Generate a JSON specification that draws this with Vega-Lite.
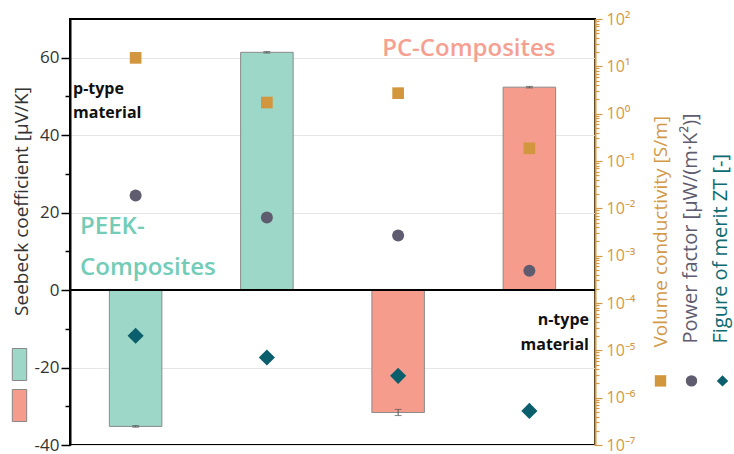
{
  "$schema": "https://vega.github.io/schema/vega-lite/v6.json",
  "width": 525,
  "height": 426,
  "autosize": {"type": "none"},
  "padding": {"left": 70, "top": 19, "right": 139, "bottom": 9},
  "background": "white",
  "config": {"font": "Open Sans", "view": {"stroke": "#000", "strokeWidth": 2}},
  "datasets": {
    "seebeck": [
      {"cat": "B1", "composite": "PEEK-Composites", "seebeck": -35.2, "err": 0.2},
      {"cat": "B2", "composite": "PEEK-Composites", "seebeck": 61.4, "err": 0.2},
      {"cat": "B3", "composite": "PC-Composites", "seebeck": -31.6, "err": 0.8},
      {"cat": "B4", "composite": "PC-Composites", "seebeck": 52.4, "err": 0.2}
    ],
    "props": [
      {"cat": "B1", "series": "Volume conductivity", "value": 15.1},
      {"cat": "B2", "series": "Volume conductivity", "value": 1.72},
      {"cat": "B3", "series": "Volume conductivity", "value": 2.71},
      {"cat": "B4", "series": "Volume conductivity", "value": 0.185},
      {"cat": "B1", "series": "Power factor", "value": 0.0187},
      {"cat": "B2", "series": "Power factor", "value": 0.0064},
      {"cat": "B3", "series": "Power factor", "value": 0.00267},
      {"cat": "B4", "series": "Power factor", "value": 0.00048},
      {"cat": "B1", "series": "ZT", "value": 0.0000203},
      {"cat": "B2", "series": "ZT", "value": 0.00000705},
      {"cat": "B3", "series": "ZT", "value": 0.00000289},
      {"cat": "B4", "series": "ZT", "value": 0.000000525}
    ]
  },
  "layer": [
    {
      "data": {"name": "seebeck"},
      "layer": [
        {
          "mark": {"type": "bar", "stroke": "#8a8a8a", "strokeWidth": 1},
          "encoding": {
            "x": {"field": "cat", "type": "nominal", "scale": {"domain": ["B1", "B2", "B3", "B4"], "paddingInner": 0.6, "paddingOuter": 0.3}, "axis": null},
            "y": {
              "field": "seebeck", "type": "quantitative",
              "title": "Seebeck coefficient [µV/K]",
              "scale": {"domain": [-40, 70], "nice": false, "zero": false},
              "axis": {
                "orient": "left",
                "values": [-40, -30, -20, -10, 0, 10, 20, 30, 40, 50, 60],
                "labelExpr": "datum.value % 20 == 0 ? '' + datum.value : ''",
                "tickSize": {"condition": {"test": "datum.value % 20 == 0", "value": 9}, "value": 5},
                "tickColor": "#000", "tickWidth": 1.5,
                "domainColor": "#000", "domainWidth": 2,
                "labelColor": "#333", "labelFontSize": 17, "labelPadding": 2,
                "grid": true, "gridColor": "#e6e6e6",
                "gridOpacity": {"condition": {"test": "datum.value % 20 == 0", "value": 1}, "value": 0},
                "titleColor": "#333", "titleFontSize": 19, "titleFontWeight": "normal",
                "titleAngle": 270, "titleX": -49, "titleY": 182, "titleAlign": "center", "titleBaseline": "middle"
              }
            },
            "fill": {
              "field": "composite", "type": "nominal",
              "scale": {"domain": ["PEEK-Composites", "PC-Composites"], "range": ["#9dd7c7", "#f69c8c"]},
              "legend": {
                "orient": "none", "legendX": -67, "legendY": 329, "title": null, "labelExpr": "''",
                "symbolType": "M-0.45,-1H0.45V1H-0.45Z", "symbolSize": 1024,
                "symbolStrokeColor": "#888", "symbolStrokeWidth": 1, "symbolOpacity": 1,
                "rowPadding": 4, "padding": 0, "labelOffset": 0
              }
            }
          }
        },
        {
          "mark": {"type": "errorbar", "ticks": {"size": 7, "color": "#555"}, "rule": {"color": "#555"}},
          "encoding": {
            "x": {"field": "cat", "type": "nominal"},
            "y": {"field": "seebeck", "type": "quantitative", "title": "Seebeck coefficient [µV/K]"},
            "yError": {"field": "err"}
          }
        },
        {
          "mark": {"type": "rule", "color": "#000", "strokeWidth": 2},
          "encoding": {"y": {"datum": 0}}
        },
        {
          "data": {"values": [{}]},
          "mark": {"type": "text", "align": "left", "baseline": "middle", "dx": -62.6, "fontSize": 16, "fontWeight": "bold", "color": "#111", "lineHeight": 23.5, "text": ["p-type", "material"]},
          "encoding": {"x": {"datum": "B1"}, "y": {"datum": 51.9}}
        },
        {
          "data": {"values": [{}]},
          "mark": {"type": "text", "align": "right", "baseline": "middle", "dx": 59.6, "fontSize": 16, "fontWeight": "bold", "color": "#111", "lineHeight": 24.5, "text": ["n-type", "material"]},
          "encoding": {"x": {"datum": "B4"}, "y": {"datum": -7.8}}
        },
        {
          "data": {"values": [{}]},
          "mark": {"type": "text", "align": "left", "baseline": "middle", "dx": -55.6, "fontSize": 24, "fontWeight": 600, "color": "#72ccb7", "lineHeight": 41, "text": ["PEEK-", "Composites"]},
          "encoding": {"x": {"datum": "B1"}, "y": {"datum": 16.2}}
        },
        {
          "data": {"values": [{}]},
          "mark": {"type": "text", "align": "left", "baseline": "middle", "dx": -16, "fontSize": 24, "fontWeight": 600, "color": "#f5a090", "text": "PC-Composites"},
          "encoding": {"x": {"datum": "B3"}, "y": {"datum": 62.3}}
        }
      ]
    },
    {
      "data": {"name": "props"},
      "transform": [{"filter": "datum.series == 'Volume conductivity'"}],
      "mark": {"type": "point", "filled": true, "opacity": 1, "size": 136, "shape": "square"},
      "encoding": {
        "x": {"field": "cat", "type": "nominal"},
        "y": {
          "field": "value", "type": "quantitative",
          "scale": {"type": "log", "domain": [1e-7, 100], "nice": false},
          "axis": {
            "orient": "right",
            "values": [1e-7, 2e-7, 3e-7, 4e-7, 5e-7, 6e-7, 7e-7, 8e-7, 9e-7,
                       1e-6, 2e-6, 3e-6, 4e-6, 5e-6, 6e-6, 7e-6, 8e-6, 9e-6,
                       1e-5, 2e-5, 3e-5, 4e-5, 5e-5, 6e-5, 7e-5, 8e-5, 9e-5,
                       0.0001, 0.0002, 0.0003, 0.0004, 0.0005, 0.0006, 0.0007, 0.0008, 0.0009,
                       0.001, 0.002, 0.003, 0.004, 0.005, 0.006, 0.007, 0.008, 0.009,
                       0.01, 0.02, 0.03, 0.04, 0.05, 0.06, 0.07, 0.08, 0.09,
                       0.1, 0.2, 0.3, 0.4, 0.5, 0.6, 0.7, 0.8, 0.9,
                       1, 2, 3, 4, 5, 6, 7, 8, 9,
                       10, 20, 30, 40, 50, 60, 70, 80, 90, 100],
            "labelExpr": "datum.value==100?'10²':datum.value==10?'10¹':datum.value==1?'10⁰':datum.value==0.1?'10⁻¹':datum.value==0.01?'10⁻²':datum.value==0.001?'10⁻³':datum.value==0.0001?'10⁻⁴':datum.value==1e-5?'10⁻⁵':datum.value==1e-6?'10⁻⁶':datum.value==1e-7?'10⁻⁷':''",
            "tickSize": {"condition": {"test": "abs(log(datum.value)/LN10 - round(log(datum.value)/LN10)) < 0.001", "value": 7}, "value": 4},
            "tickColor": "#d29a48", "tickWidth": 1.2,
            "domainColor": "#d29a48", "domainWidth": 2,
            "labelColor": "#d29a48", "labelFontSize": 16, "labelPadding": 4,
            "labelOverlap": false, "labelBound": false, "labelFlush": false,
            "grid": false,
            "title": "Volume conductivity [S/m]", "titleColor": "#d29a48", "titleFontSize": 19, "titleFontWeight": "normal",
            "titleAngle": 270, "titleX": 65, "titleY": 328, "titleAlign": "left", "titleBaseline": "middle"
          }
        },
        "color": {
          "field": "series", "type": "nominal",
          "scale": {"domain": ["Volume conductivity", "Power factor", "ZT"], "range": ["#d2963e", "#5e5c6e", "#0b5e6b"]},
          "legend": {"orient": "none", "direction": "horizontal", "legendX": 584, "legendY": 355, "title": null, "labelExpr": "''", "symbolSize": 130, "columnPadding": 18, "labelOffset": 0, "padding": 0, "symbolOpacity": 1}
        },
        "shape": {
          "field": "series", "type": "nominal",
          "scale": {"domain": ["Volume conductivity", "Power factor", "ZT"], "range": ["square", "circle", "diamond"]},
          "legend": {"orient": "none", "direction": "horizontal", "legendX": 584, "legendY": 355, "title": null, "labelExpr": "''", "symbolSize": 130, "columnPadding": 18, "labelOffset": 0, "padding": 0, "symbolOpacity": 1}
        }
      }
    },
    {
      "data": {"name": "props"},
      "transform": [{"filter": "datum.series == 'Power factor'"}],
      "mark": {"type": "point", "filled": true, "opacity": 1, "size": 144, "shape": "circle"},
      "encoding": {
        "x": {"field": "cat", "type": "nominal"},
        "y": {
          "field": "value", "type": "quantitative",
          "scale": {"type": "log", "domain": [1e-7, 100], "nice": false},
          "axis": {
            "orient": "right", "domain": false, "ticks": false, "labels": false, "grid": false,
            "title": "Power factor [µW/(m·K²)]", "titleColor": "#5e5c6e", "titleFontSize": 20, "titleFontWeight": "normal",
            "titleAngle": 270, "titleX": 95, "titleY": 324, "titleAlign": "left", "titleBaseline": "middle"
          }
        },
        "color": {"field": "series", "type": "nominal"},
        "shape": {"field": "series", "type": "nominal"}
      }
    },
    {
      "data": {"name": "props"},
      "transform": [{"filter": "datum.series == 'ZT'"}],
      "mark": {"type": "point", "filled": true, "opacity": 1, "size": 260, "shape": "diamond"},
      "encoding": {
        "x": {"field": "cat", "type": "nominal"},
        "y": {
          "field": "value", "type": "quantitative",
          "scale": {"type": "log", "domain": [1e-7, 100], "nice": false},
          "axis": {
            "orient": "right", "domain": false, "ticks": false, "labels": false, "grid": false,
            "title": "Figure of merit ZT [-]", "titleColor": "#0e6b73", "titleFontSize": 20, "titleFontWeight": "normal",
            "titleAngle": 270, "titleX": 125, "titleY": 324, "titleAlign": "left", "titleBaseline": "middle"
          }
        },
        "color": {"field": "series", "type": "nominal"},
        "shape": {"field": "series", "type": "nominal"}
      }
    }
  ],
  "resolve": {"scale": {"y": "independent"}, "axis": {"y": "independent"}}
}
